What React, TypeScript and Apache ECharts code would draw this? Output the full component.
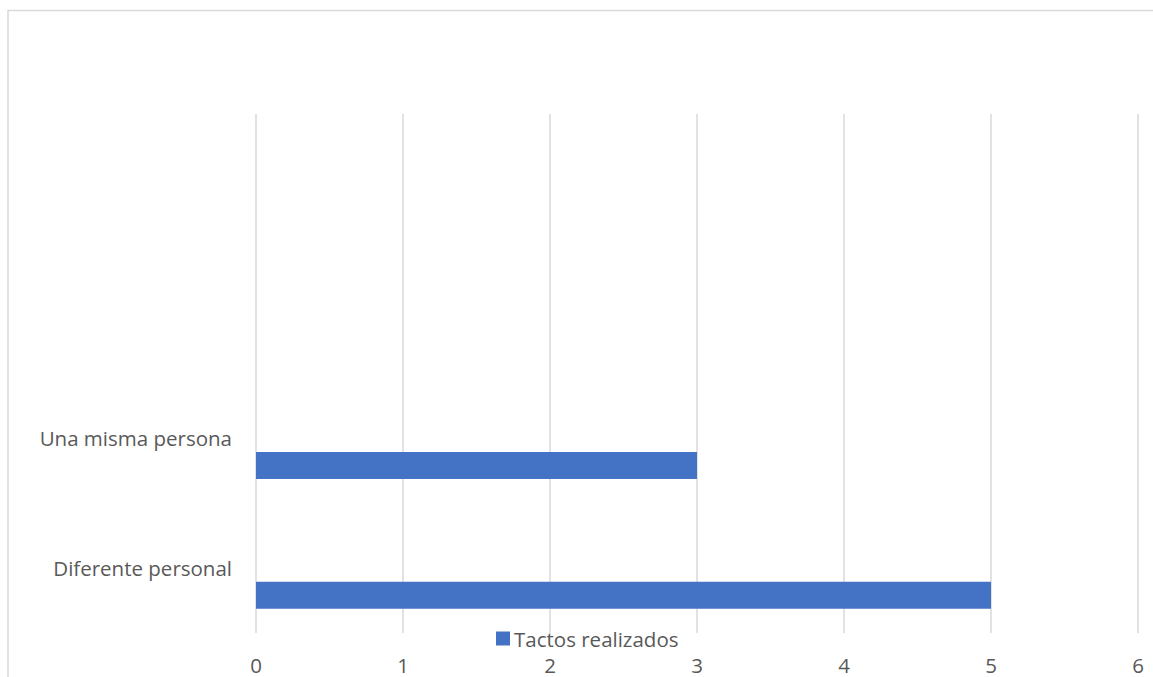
import React, { useEffect, useRef } from "react";
import * as echarts from "echarts";

// Category axis runs bottom to top; the two upper slots are empty.
const categories = ["Diferente personal", "Una misma persona", "", ""];
const tactosRealizados = [5, 3, null, null];
const xTicks = [0, 1, 2, 3, 4, 5, 6];

const TEXT = "#595959";
const GRID = "#D9D9D9";
const BAR = "#4472C4";
const FONT = "'Open Sans', sans-serif";
const SIZE = 20.5;

export default function App() {
  const ref = useRef<HTMLDivElement>(null);

  useEffect(() => {
    if (!ref.current) return;
    const chart = echarts.init(ref.current, undefined, { renderer: "svg" });
    chart.setOption({
      animation: false,
      backgroundColor: "#ffffff",
      textStyle: { fontFamily: FONT },
      graphic: [
        {
          type: "rect",
          shape: { x: 8, y: 10.5, width: 1300, height: 900 },
          style: { fill: "none", stroke: GRID, lineWidth: 1.5 },
          silent: true,
        },
      ],
      legend: {
        data: ["Tactos realizados"],
        left: 491,
        top: 623,
        itemWidth: 14,
        itemHeight: 14,
        itemGap: 10,
        icon: "rect",
        textStyle: {
          color: TEXT,
          fontSize: SIZE,
          fontFamily: FONT,
          padding: [0, 0, 0, -1],
        },
      },
      grid: { left: 256, right: 15, top: 114, bottom: 44, containLabel: false },
      xAxis: {
        type: "value",
        min: xTicks[0],
        max: xTicks[xTicks.length - 1],
        interval: 1,
        axisLine: { show: false },
        axisTick: { show: false },
        splitLine: { show: true, lineStyle: { color: GRID, width: 1.5 } },
        axisLabel: { color: TEXT, fontSize: SIZE, fontFamily: FONT, margin: 21 },
      },
      yAxis: {
        type: "category",
        data: categories,
        axisLine: { show: false },
        axisTick: { show: false },
        splitLine: { show: false },
        axisLabel: { color: TEXT, fontSize: SIZE, fontFamily: FONT, margin: 24 },
      },
      series: [
        {
          name: "spacer",
          type: "bar",
          data: categories.map(() => null),
          barWidth: 27,
          barGap: "100%",
          itemStyle: { color: "transparent" },
        },
        {
          name: "Tactos realizados",
          type: "bar",
          data: tactosRealizados,
          barWidth: 27,
          barGap: "100%",
          itemStyle: { color: BAR },
        },
      ],
    });
    return () => chart.dispose();
  }, []);

  return (
    <div
      ref={ref}
      style={{ position: "fixed", left: 0, top: 0, width: 1153, height: 677 }}
    />
  );
}
